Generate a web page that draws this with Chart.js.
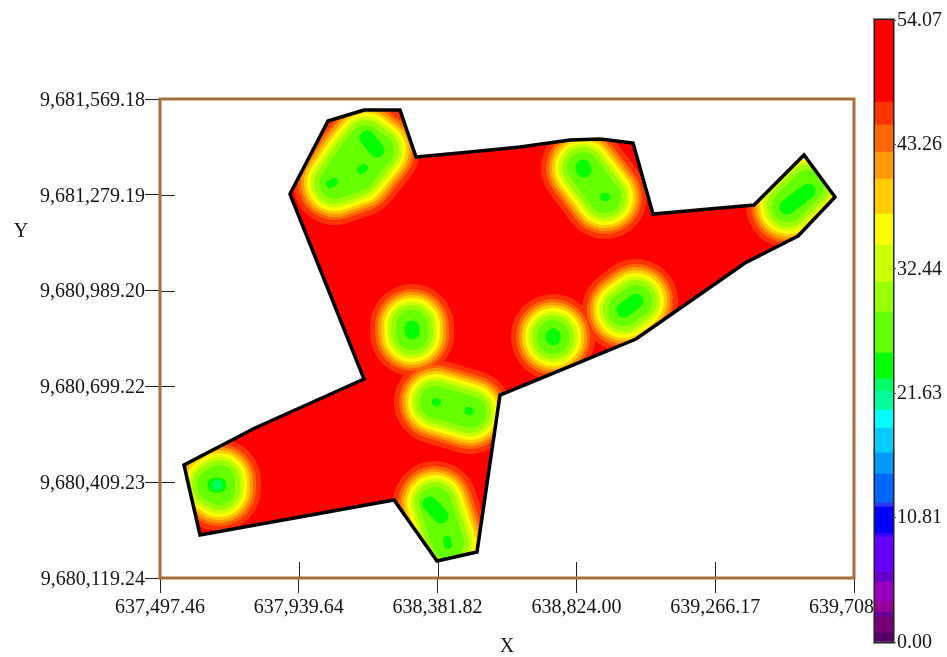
<!DOCTYPE html>
<html>
<head>
<meta charset="utf-8">
<style>
html,body{margin:0;padding:0;background:#fff;overflow:hidden}
#a,#b{position:absolute;top:0}
#a{left:0}
#b{left:860px}
</style>
<script src="https://cdn.jsdelivr.net/npm/chart.js@4/dist/chart.umd.min.js"></script>
</head>
<body>
<canvas id="a" width="947" height="657"></canvas>
<canvas id="b" width="87" height="657"></canvas>
<script>
// ---- axes
const xTickValues = [637497.46, 637939.64, 638381.82, 638824.00, 639266.17, 639708.36];
const xTickLabels = ['637,497.46', '637,939.64', '638,381.82', '638,824.00', '639,266.17', '639,708\u00a0\u00a0\u00a0\u00a0\u00a0'];
const yTickValues = [9680119.24, 9680409.23, 9680699.22, 9680989.20, 9681279.19, 9681569.18];
const yTickLabels = ['9,680,119.24', '9,680,409.23', '9,680,699.22', '9,680,989.20', '9,681,279.19', '9,681,569.18'];

// ---- survey outline
const outlineX = [637911.6, 638032.7, 638147.4, 638262.0, 638313.0, 638485.0, 638644.3, 638803.6, 638899.2, 639004.4, 639068.0, 639389.8, 639549.1, 639647.9, 639530.0, 639361.1, 639013.9, 638580.6, 638507.3, 638379.9, 638243.0, 637624.9, 637573.9, 637800.1, 638147.4, 637911.6];
const outlineY = [9681281.6, 9681502.6, 9681535.8, 9681535.8, 9681393.6, 9681408.7, 9681423.9, 9681445.0, 9681448.1, 9681435.9, 9681221.0, 9681248.3, 9681399.6, 9681272.5, 9681154.4, 9681072.7, 9680842.7, 9680673.1, 9680197.9, 9680170.7, 9680355.3, 9680249.4, 9680461.3, 9680573.3, 9680721.6, 9681281.6];

// ---- low-value zones: ridge lines (null separates zones)
const ridgeX = [638054.96, 638128.2, 638191.9, 638153.7, 638109.1, 638054.96, null, 638845.0, 638915.1, null, 639498.1, 639561.9, null, 638300.3, 638301.0, null, 638749.5, 638750.0, null, 638975.7, 639013.9, null, 638376.8, 638485.0, null, 638373.6, 638415.0, null, 637666.3, 637685.4, 637685.4, 637666.3];
const ridgeY = [9681314.9, 9681339.1, 9681414.8, 9681442.0, 9681390.5, 9681314.9, null, 9681360.3, 9681272.5, null, 9681245.3, 9681305.8, null, 9680882.0, 9680857.8, null, 9680851.7, 9680845.7, null, 9680930.4, 9680957.7, null, 9680652.0, 9680621.7, null, 9680346.2, 9680225.1, null, 9680400.7, 9680412.8, 9680388.6, 9680400.7];
// ---- broad minima
const coreX = [638156.9, 638188.8, null, 638845.0, 638848.2, null, 639494.9, 639561.9, null, 638300.3, 638301.0, null, 638749.5, 638750.0, null, 638975.7, 639013.9, null, 638357.6, 638392.7, null, 637672.0, 637686.0];
const coreY = [9681451.1, 9681414.8, null, 9681363.3, 9681354.2, null, 9681242.2, 9681290.7, null, 9680876.0, 9680863.8, null, 9680851.7, 9680845.7, null, 9680930.4, 9680957.7, null, 9680343.2, 9680306.9, null, 9680400.7, 9680400.7];
// ---- small minima
const spotX = [638039.1, 638051.8, null, 638137.8, 638147.4, null, 638912.0, 638918.3, null, 638376.0, 638380.0, null, 638480.0, 638484.0, null, 638411.8, 638415.0];
const spotY = [9681311.8, 9681317.9, null, 9681354.2, 9681360.3, null, 9681272.5, 9681272.6, null, 9680652.0, 9680651.0, null, 9680625.0, 9680624.0, null, 9680234.3, 9680219.1];
// ---- deepest minimum
const deepX = [637679.0, 637680.6];
const deepY = [9680400.7, 9680400.7];

// ---- colour scale
const scaleTicks = [0, 10.81, 21.63, 32.44, 43.26, 54.07];
const scaleTickLabels = ['0.00', '10.81', '21.63', '32.44', '43.26', '54.07'];
const classHeights = [0.78, 1.39, 0.44, 0.87, 1.74, 0.86, 3.05, 0.34, 2.27, 0.34, 2.52, 1.83, 2.17, 1.57, 1.65, 1.04, 2.26, 3.57, 2.60, 3.22, 2.69, 3.05, 2.34, 2.35, 2.00, 7.13];
const classColors = ['#550066', '#770077', '#660099', '#990099', '#9900bb', '#6600cc', '#6600ff', '#3300ff', '#0000ff', '#3333ff', '#0066ff', '#0099ff', '#00ccff', '#00ffff', '#00ff99', '#00ff66', '#00ff00', '#66ff00', '#99ff00', '#ccff00', '#ffff00', '#ffcc00', '#ff9900', '#ff6600', '#ff3300', '#ff0000'];

// band styles, outer to inner
const bandColors = ['#ff3300', '#ff6600', '#ff9900', '#ffcc00', '#ffff00', '#ccff00', '#99ff00', '#66ff00'];
const bandRadii = [42, 37, 34, 31, 28, 24.5, 21, 16];

const FONT = {family: '"Liberation Serif", "Times New Roman", serif', size: 20};
const INK = '#151515';
const pts = (xs, ys) => xs.map((x, i) => ({x: x, y: ys[i]}));
const lineBase = {showLine: true, pointRadius: 0, pointHoverRadius: 0, tension: 0.0001, borderJoinStyle: 'round', borderCapStyle: 'round', spanGaps: false, fill: false};

const datasets = [];
datasets.push(Object.assign({}, lineBase, {data: pts(outlineX, outlineY), borderWidth: 0, borderColor: 'rgba(0,0,0,0)', backgroundColor: '#ff0000', fill: 'shape', order: 100}));
bandColors.forEach((c, i) => {
  datasets.push(Object.assign({}, lineBase, {data: pts(ridgeX, ridgeY), borderColor: c, borderWidth: bandRadii[i] * 2, order: 90 - i, insideOutline: true}));
});
datasets.push(Object.assign({}, lineBase, {data: pts(coreX, coreY), borderColor: '#00ff00', borderWidth: 15, order: 20, insideOutline: true}));
datasets.push(Object.assign({}, lineBase, {data: pts(spotX, spotY), borderColor: '#00ff00', borderWidth: 8, order: 19, insideOutline: true}));
datasets.push(Object.assign({}, lineBase, {data: pts(deepX, deepY), borderColor: '#00ff66', borderWidth: 10, order: 18, insideOutline: true}));
datasets.push(Object.assign({}, lineBase, {data: pts(outlineX, outlineY), borderColor: '#000000', borderWidth: 3.5, borderJoinStyle: 'miter', order: 1}));

const outlineClip = {
  id: 'outlineClip',
  beforeDatasetDraw(chart, args) {
    if (!args.meta._dataset.insideOutline) return;
    const sx = chart.scales.x, sy = chart.scales.y, ctx = chart.ctx;
    ctx.save();
    ctx.beginPath();
    outlineX.forEach((x, i) => {
      const px = sx.getPixelForValue(x), py = sy.getPixelForValue(outlineY[i]);
      if (i) ctx.lineTo(px, py); else ctx.moveTo(px, py);
    });
    ctx.closePath();
    ctx.clip();
  },
  afterDatasetDraw(chart, args) {
    if (args.meta._dataset.insideOutline) chart.ctx.restore();
  }
};

const frame = {
  id: 'frame',
  afterDraw(chart) {
    const {ctx, chartArea: a} = chart;
    const sx = chart.scales.x, sy = chart.scales.y;
    ctx.save();
    ctx.strokeStyle = '#222';
    ctx.lineWidth = 1;
    ctx.beginPath();
    sx.ticks.forEach(t => { const p = Math.round(sx.getPixelForValue(t.value)) + 0.5; ctx.moveTo(p, a.bottom); ctx.lineTo(p, a.bottom - 16); });
    sy.ticks.forEach(t => { const p = Math.round(sy.getPixelForValue(t.value)) + 0.5; ctx.moveTo(a.left, p); ctx.lineTo(a.left + 15, p); });
    ctx.stroke();
    ctx.strokeStyle = '#a5703c';
    ctx.lineWidth = 3;
    ctx.strokeRect(a.left, a.top, a.right - a.left, a.bottom - a.top);
    ctx.fillStyle = INK;
    ctx.font = '20px ' + FONT.family;
    ctx.textAlign = 'center';
    ctx.textBaseline = 'middle';
    ctx.fillText('Y', 21, 232);
    ctx.restore();
  }
};

new Chart(document.getElementById('a'), {
  type: 'scatter',
  data: {datasets: datasets},
  plugins: [outlineClip, frame],
  options: {
    responsive: false, animation: false,
    layout: {padding: {top: 99, right: 93, left: 0, bottom: 0}},
    plugins: {legend: {display: false}, tooltip: {enabled: false}},
    scales: {
      x: {
        type: 'linear', min: xTickValues[0], max: xTickValues[5],
        afterBuildTicks: s => { s.ticks = xTickValues.map(v => ({value: v})); },
        afterFit: s => { s.height = 79; },
        grid: {drawOnChartArea: false, drawTicks: true, tickLength: 15, color: '#222'},
        border: {display: false},
        ticks: {font: FONT, color: INK, padding: 3, autoSkip: false, maxRotation: 0, callback: (v, i) => xTickLabels[i]},
        title: {display: true, text: 'X', font: Object.assign({lineHeight: 1}, FONT), color: INK, padding: {top: 0, bottom: 0}}
      },
      y: {
        type: 'linear', min: yTickValues[0], max: yTickValues[5],
        afterBuildTicks: s => { s.ticks = yTickValues.map(v => ({value: v})); },
        afterFit: s => { s.width = 160; },
        grid: {drawOnChartArea: false, drawTicks: true, tickLength: 15, color: '#222'},
        border: {display: false},
        ticks: {font: FONT, color: INK, padding: 0, labelOffset: 1.5, autoSkip: false, maxRotation: 0, callback: (v, i) => yTickLabels[i]}
      }
    }
  }
});

const barFrame = {
  id: 'barFrame',
  afterDraw(chart) {
    const {ctx, chartArea: a} = chart;
    ctx.save();
    ctx.strokeStyle = '#8a8a8a';
    ctx.lineWidth = 1;
    ctx.strokeRect(a.left - 1.5, a.top - 1.5, a.right - a.left + 3, a.bottom - a.top + 3);
    ctx.strokeStyle = '#222';
    ctx.strokeRect(a.left - 0.5, a.top - 0.5, a.right - a.left + 1, a.bottom - a.top + 1);
    ctx.restore();
  }
};

new Chart(document.getElementById('b'), {
  type: 'bar',
  data: {
    labels: ['classes'],
    datasets: classHeights.map((h, i) => ({data: [h], backgroundColor: classColors[i], borderWidth: 0, barPercentage: 1, categoryPercentage: 1}))
  },
  plugins: [barFrame],
  options: {
    responsive: false, animation: false,
    layout: {padding: {top: 20, bottom: 15, left: 15, right: 0}},
    plugins: {legend: {display: false}, tooltip: {enabled: false}},
    scales: {
      x: {stacked: true, display: false},
      y: {
        stacked: true, position: 'right', min: 0, max: 54.07,
        afterBuildTicks: s => { s.ticks = scaleTicks.map(v => ({value: v})); },
        afterFit: s => { s.width = 54; },
        grid: {drawOnChartArea: false, drawTicks: true, tickLength: 3, color: '#333'},
        border: {display: false},
        ticks: {font: FONT, color: INK, padding: 1, labelOffset: 0.5, autoSkip: false, maxRotation: 0, callback: (v, i) => scaleTickLabels[i]}
      }
    }
  }
});
</script>
</body>
</html>
